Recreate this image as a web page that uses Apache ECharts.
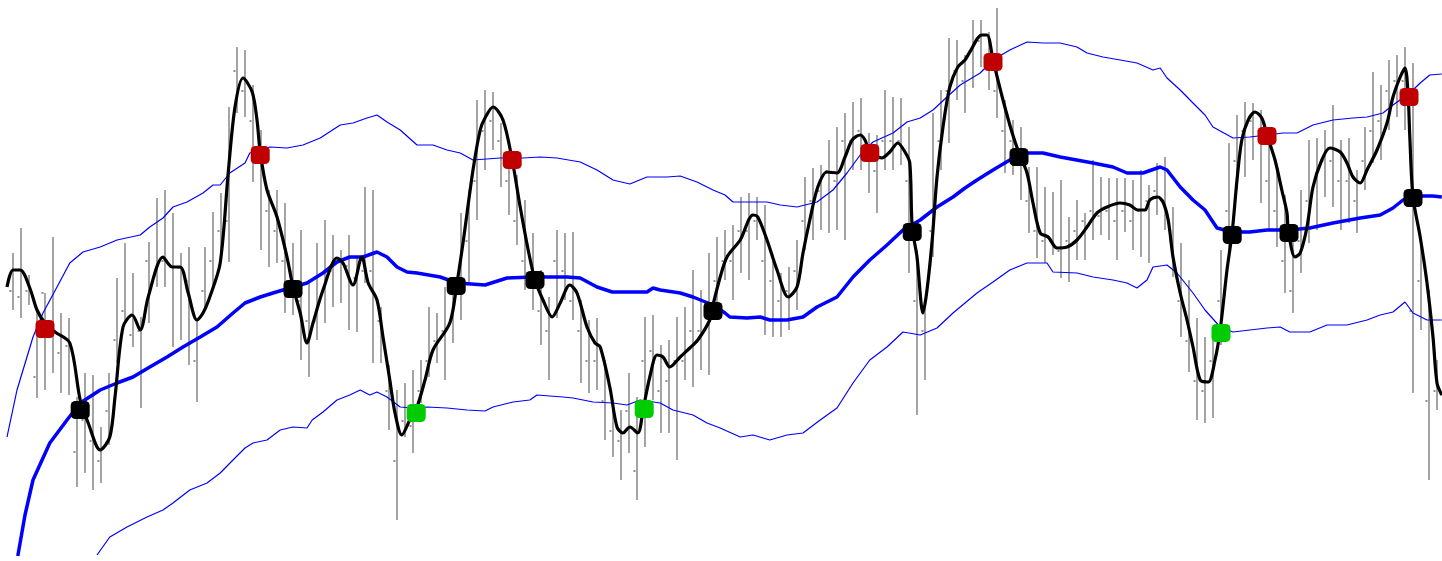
<!DOCTYPE html>
<html><head><meta charset="utf-8">
<script src="https://cdn.jsdelivr.net/npm/echarts@6/dist/echarts.min.js"></script>
<style>html,body{margin:0;padding:0;background:#fff}#c{width:1442px;height:561px}</style>
</head><body><div id="c"></div>
<script>
// Bar index runs 0..178; prices in points
const barHigh = [308,333,286,254,268,324,248,243,164,188,
186,134,188,283,318,288,244,319,363,371,
348,308,314,241,314,349,368,454,514,511,
476,431,371,371,358,318,331,278,318,341,
326,311,326,304,374,371,254,196,171,178,
191,201,254,248,274,278,348,371,461,471,
469,438,404,386,361,328,291,264,331,328,
329,261,241,243,201,161,151,188,164,244,
246,216,221,244,254,291,271,308,324,331,
336,364,368,364,356,306,288,294,321,384,
393,396,421,434,448,459,463,428,426,471,
464,463,434,311,261,448,471,523,521,506,
541,541,529,553,461,441,434,394,394,374,
369,381,344,361,348,401,384,383,383,383,
381,391,376,398,404,354,318,281,243,224,
226,311,418,446,459,458,451,431,396,366,
324,371,421,423,431,456,421,423,391,434,
489,476,501,506,514,498,321,271,201];
const barLow = [251,243,256,163,171,188,168,166,74,88,
71,78,116,198,238,214,153,238,274,274,
214,221,196,159,251,274,299,299,448,444,
379,311,294,298,248,246,201,184,221,238,
254,258,231,229,278,198,198,131,41,124,
108,158,184,198,181,218,241,278,341,391,
411,374,346,316,271,251,216,181,243,261,
241,178,168,171,121,104,81,108,61,114,
161,128,128,101,181,174,191,186,251,281,
261,288,281,321,226,224,224,231,251,311,
321,331,328,331,321,391,391,368,348,391,
391,396,288,146,181,304,391,418,461,448,
473,494,471,443,388,386,361,328,303,298,
306,283,279,301,301,321,326,321,301,329,
311,304,298,346,331,284,224,189,141,138,
143,216,311,371,384,401,358,331,314,268,
248,288,318,331,364,354,331,338,328,371,
398,401,431,444,431,168,231,81,151];
const barOpen = [270,264,270,184,268,231,208,215,109,141,
120,100,150,221,250,226,230,300,286,300,
294,293,280,200,270,300,330,340,490,470,
440,400,350,330,300,290,260,240,240,270,
290,300,295,283,290,290,240,170,100,140,
135,170,200,220,230,240,270,320,380,430,
440,420,380,340,300,300,250,230,300,290,
260,230,200,200,160,130,120,150,90,200,
210,170,180,200,200,230,230,250,280,300,
300,330,330,340,300,280,260,270,290,340,
360,370,390,380,420,420,430,400,390,420,
420,420,380,260,230,330,420,470,490,480,
510,520,500,470,430,420,400,360,330,320,
320,310,320,330,340,350,345,350,340,350,
340,350,360,370,360,320,260,220,180,170,
200,260,350,400,430,440,430,380,350,300,
270,320,360,380,400,400,380,380,360,400,
430,440,470,480,480,250,280,160,170];

const smoothLine = [[-0.75,274],[0,291],[0.9,291],[2.1,273],[3,251],[4,238],[5.25,229],[7.1,218],[8.4,161],[9.4,138],[10.9,111],[12.1,124],[12.75,164],[13.75,234],[14.9,246],[15.9,231],[16.9,264],[18.75,304],[19.9,294],[20.9,294],[21.9,268],[23,241],[23.75,248],[24.6,264],[25.9,298],[26.9,388],[27.75,454],[28.75,483],[29.9,469],[30.5,441],[30.9,409],[31.75,371],[33,344],[34.25,304],[35,274],[35.9,248],[36.75,218],[37.5,238],[38.75,271],[40.5,303],[41.25,298],[42.5,276],[43.6,304],[44.4,278],[45.5,261],[46.25,224],[47.1,181],[47.75,148],[48.6,126],[49.6,141],[50.5,154],[51.5,181],[52.5,211],[54.6,238],[55.5,278],[56.25,318],[57.5,391],[58.4,431],[59,443],[60,454],[61.25,441],[62.4,401],[63.4,354],[64.4,311],[65.25,281],[66.25,261],[67.4,244],[68.4,258],[69.6,276],[70.5,268],[71.75,234],[72.75,218],[73.4,214],[74.6,174],[75.5,134],[76.25,128],[77.1,134],[78.1,128],[78.75,151],[79.6,184],[80.5,206],[81.25,204],[82.1,194],[83.4,204],[84.6,213],[85.6,221],[87.1,241],[87.5,256],[88.4,284],[89.25,304],[90.9,321],[92.5,346],[93.1,344],[94.25,321],[95.5,291],[96.9,264],[98,274],[98.75,308],[99.6,341],[100.6,374],[101.75,389],[103,388],[104,404],[104.9,421],[105.9,426],[106.5,421],[107.1,409],[108.6,403],[109.6,409],[110.6,418],[111.5,409],[112.1,398],[112.4,334],[113,304],[113.75,248],[114.25,271],[114.9,321],[115.5,384],[116.25,434],[117.1,474],[118.1,494],[119,501],[119.6,509],[121.1,526],[121.75,526],[122.5,501],[123.75,461],[124.9,428],[125.75,408],[126.75,388],[127.5,358],[128.4,328],[129.4,324],[130.5,313],[131.75,314],[133,321],[134.25,334],[135.5,348],[136.75,354],[138.4,358],[139.6,356],[140.6,351],[141.5,351],[142.1,361],[143.1,364],[143.75,359],[144.4,341],[145,304],[145.9,268],[146.75,241],[147.5,214],[148.4,181],[149.4,179],[150.25,201],[150.9,231],[151.75,291],[152.4,329],[153,381],[153.6,421],[154.4,441],[155.25,449],[156.1,443],[156.75,426],[157.75,401],[158.6,371],[159.25,348],[159.4,331],[160.25,304],[160.9,308],[161.75,334],[162.5,374],[163.6,401],[164.6,413],[165.9,409],[166.75,398],[167.5,384],[168.4,378],[169.25,391],[170.5,411],[171.75,438],[172.5,464],[173.4,484],[174,493],[174.4,464],[174.6,424],[175,364],[175.9,324],[176.75,278],[177.5,224],[178,178],[178.6,166]];

const maLine = [[0.6,5],[1.5,46],[2.5,81],[4.6,118],[6.75,141],[8.4,158],[10.9,171],[13,178],[15,184],[17.1,194],[19.25,204],[21.25,214],[23.4,224],[25.5,234],[27.5,248],[29,258],[30.9,264],[32.5,268],[35,274],[36.75,278],[38.75,288],[40.5,299],[42.1,304],[43.75,304],[45.5,309],[46.75,304],[48,294],[49.25,289],[50.5,288],[53.4,284],[55.5,278],[59,276],[61.75,283],[65,284],[69.25,284],[70.9,283],[73,274],[74.9,269],[79.25,269],[80,273],[80.9,271],[83.4,268],[85,264],[87.5,256],[89,248],[89.6,244],[91.75,243],[93.4,244],[94.6,241],[96.75,241],[98.75,244],[100.5,254],[103,264],[105,284],[107.1,301],[109.25,316],[111.25,331],[113.4,341],[115.5,354],[117.5,364],[119,373],[120.5,381],[122.5,391],[124.6,401],[125.75,408],[128.75,408],[130.9,404],[135,398],[137.5,394],[139.25,388],[141.25,388],[143.4,394],[144.25,391],[145.9,374],[147.5,361],[149,351],[150.5,333],[152.4,329],[154.6,329],[156.75,331],[159.4,331],[162.1,333],[165,338],[168.4,343],[170.9,346],[172.5,353],[173.75,361],[175,365],[177.5,365],[178.6,364]];

const upperBand = [[-0.75,124],[0.5,171],[2.5,224],[3.75,248],[5.5,274],[7.1,298],[8.75,309],[10.9,314],[13,321],[15.9,326],[17.1,334],[18.75,343],[20,354],[21.75,359],[23.75,368],[25,376],[25.9,376],[27.1,388],[29,398],[29.6,408],[32.1,414],[34.25,413],[36.25,416],[38.4,423],[40.9,436],[42.5,438],[44.25,443],[45.5,446],[46.75,439],[48.4,431],[50.5,416],[52.5,416],[54.25,411],[55.9,408],[57.5,401],[60.9,403],[63.75,403],[65.9,404],[68,403],[70.9,399],[73,391],[75,381],[77.1,377],[79.25,384],[81.75,384],[83.4,385],[85.5,379],[87.5,371],[89,366],[90,359],[92.5,359],[94.25,359],[95.9,356],[98,354],[100.5,359],[102.5,371],[104.25,388],[105.9,406],[107.5,419],[110,428],[111.75,439],[113.4,443],[115,451],[116.75,464],[118.4,476],[120.9,488],[122.5,501],[124.6,511],[126.75,519],[128.75,518],[130.9,518],[133,514],[134.25,508],[136.25,504],[138.4,501],[140.5,498],[142.5,491],[143.4,493],[144.25,483],[145.9,471],[147.5,458],[149,446],[150,434],[152.5,423],[154.6,424],[156.75,426],[158.75,428],[160.5,428],[162.5,436],[165,441],[167.5,443],[169.25,444],[171.25,448],[172.5,456],[174.6,468],[175.9,478],[177.1,486],[178.6,487]];

const lowerBand = [[10.5,6],[12.1,24],[14.25,34],[16.75,44],[18.75,51],[20,58],[22.1,71],[24.25,78],[25.9,88],[27.5,101],[29,113],[30,118],[31.75,121],[33.4,131],[35,134],[36.75,133],[37.4,141],[38.75,149],[40.5,161],[42.1,166],[43.4,171],[44.6,166],[45.5,169],[46.75,164],[48.4,154],[50,153],[51.75,154],[54.25,153],[56.75,151],[59,150],[60,154],[62.5,159],[64.6,161],[65.5,166],[68.75,164],[70,163],[72.5,159],[75,158],[76.75,156],[78.4,161],[80.9,158],[82.5,151],[85,146],[86.75,138],[88.4,133],[90.9,124],[92.5,126],[94.6,121],[96.75,126],[98.75,128],[100.9,141],[103,153],[105,178],[107.1,201],[109.25,214],[111.25,229],[113.4,226],[115.5,233],[117.5,248],[119,258],[120.5,268],[122.5,279],[124.6,291],[126.75,298],[129.25,298],[130,289],[133,288],[135,284],[137.5,281],[139.25,278],[140.5,273],[141.75,281],[142.5,294],[144.25,296],[145.5,288],[147.5,268],[149,251],[150.9,234],[152.5,229],[154.6,231],[156.75,233],[158.4,234],[159.6,229],[162.1,229],[164.25,236],[166.75,236],[169.25,241],[170.9,246],[172.5,249],[174,259],[175,248],[176.75,241],[178.6,241]];

const sellSignals = [[4,232],[30.9,406],[62.4,401],[107.1,408],[122.5,499],[156.75,425],[174.5,464]];
const buySignals = [[50.4,148],[78.9,152],[151,228]];
const crossSignals = [[8.4,151],[35,272],[55.4,275],[65.25,281],[87.5,250],[112.4,329],[125.75,404],[152.4,326],[159.5,328],[175,363]];

const bars = barHigh.map((h, i) => [i, h, barLow[i], barOpen[i]]);
const chart = echarts.init(document.getElementById('c'), null, {renderer: 'canvas'});
const marker = (name, data, color) => ({
  name, type: 'scatter', data, symbol: 'roundRect', symbolSize: [19, 18],
  itemStyle: {color, opacity: 1, borderRadius: 3}, z: 10, silent: true
});
chart.setOption({
  animation: false,
  backgroundColor: '#ffffff',
  grid: {left: 0, right: 0, top: 0, bottom: 0},
  xAxis: {type: 'value', min: -1.625, max: 178.625, show: false},
  yAxis: {type: 'value', min: 0, max: 561, show: false},
  series: [
    {
      type: 'custom', data: bars, z: 1, silent: true,
      encode: {x: 0, y: [1, 2]},
      renderItem: (params, api) => {
        const a = api.coord([api.value(0), api.value(1)]);
        const b = api.coord([api.value(0), api.value(2)]);
        const o = api.coord([api.value(0), api.value(3)]);
        return {type: 'group', children: [
          {type: 'line', shape: {x1: a[0], y1: a[1], x2: b[0], y2: b[1]},
           style: {stroke: '#8e8e8e', lineWidth: 1.6}},
          {type: 'line', shape: {x1: o[0] - 3.5, y1: o[1], x2: o[0] - 1.5, y2: o[1]},
           style: {stroke: '#222222', lineWidth: 1}}
        ]};
      }
    },
    {type: 'line', data: upperBand, showSymbol: false, z: 3, silent: true,
     lineStyle: {color: '#0000ff', width: 1.2}},
    {type: 'line', data: lowerBand, showSymbol: false, z: 3, silent: true,
     lineStyle: {color: '#0000ff', width: 1.2}},
    {type: 'line', data: maLine, showSymbol: false, z: 4, silent: true,
     lineStyle: {color: '#0000ff', width: 3.5}},
    {type: 'line', data: smoothLine, showSymbol: false, smooth: 0.3, z: 5, silent: true,
     lineStyle: {color: '#000000', width: 3.2}},
    marker('sell', sellSignals, '#c00000'),
    marker('buy', buySignals, '#00cc00'),
    marker('cross', crossSignals, '#000000')
  ]
});
</script>
</body></html>
